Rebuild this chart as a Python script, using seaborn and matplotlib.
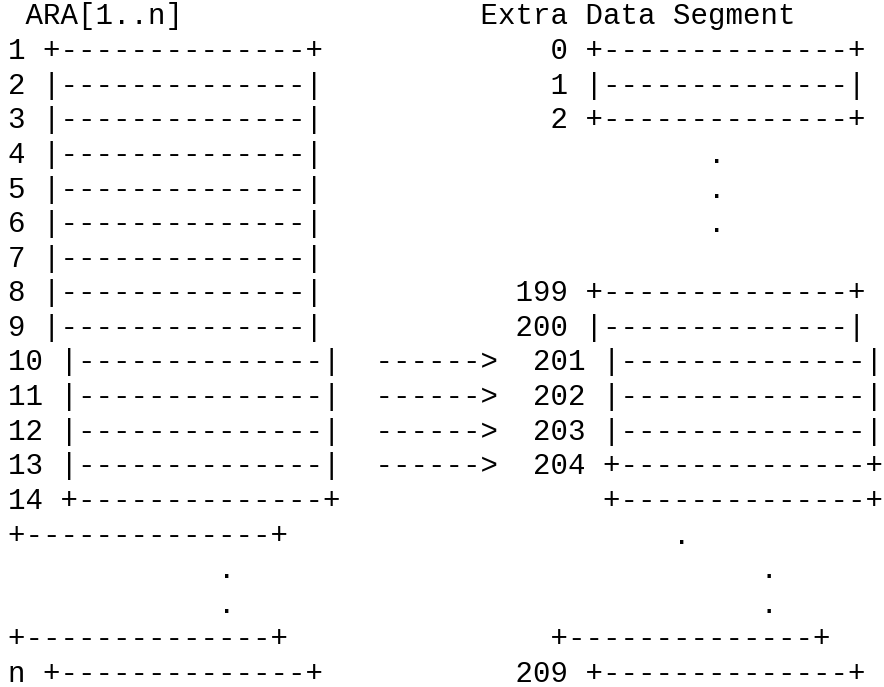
import matplotlib
matplotlib.use('Agg')
import matplotlib.pyplot as plt
import seaborn as sns

# ASCII 图的每一行（左边：ARA 数组，右边：额外数据段）
box_top = '+' + '-' * 14 + '+'
box_mid = '|' + '-' * 14 + '|'
arrow = '  ------>  '

lines = [
    ' ARA[1..n]' + ' ' * 17 + 'Extra Data Segment',
    '1 ' + box_top + ' ' * 13 + '0 ' + box_top,
    '2 ' + box_mid + ' ' * 13 + '1 ' + box_mid,
    '3 ' + box_mid + ' ' * 13 + '2 ' + box_top,
    '4 ' + box_mid + ' ' * 22 + '.',
    '5 ' + box_mid + ' ' * 22 + '.',
    '6 ' + box_mid + ' ' * 22 + '.',
    '7 ' + box_mid,
    '8 ' + box_mid + ' ' * 11 + '199 ' + box_top,
    '9 ' + box_mid + ' ' * 11 + '200 ' + box_mid,
    '10 ' + box_mid + arrow + '201 ' + box_mid,
    '11 ' + box_mid + arrow + '202 ' + box_mid,
    '12 ' + box_mid + arrow + '203 ' + box_mid,
    '13 ' + box_mid + arrow + '204 ' + box_top,
    '14 ' + box_top + ' ' * 15 + box_top,
    box_top + ' ' * 22 + '.',
    ' ' * 12 + '.' + ' ' * 30 + '.',
    ' ' * 12 + '.' + ' ' * 30 + '.',
    box_top + ' ' * 15 + box_top,
    'n ' + box_top + ' ' * 11 + '209 ' + box_top,
]

sns.set_theme(style='white')
plt.rcParams['font.family'] = ['Liberation Mono', 'DejaVu Sans Mono']

W, H = 884, 687
fig = plt.figure(figsize=(W / 100, H / 100), dpi=100)
ax = fig.add_axes([0, 0, 1, 1])
ax.set_xlim(0, W)
ax.set_ylim(H, 0)
ax.axis('off')

x0 = 8
y0 = 24.5
step = 34.6
for i, line in enumerate(lines):
    ax.text(x0, y0 + i * step, line, fontsize=21.0, color='black',
            ha='left', va='baseline')

fig.savefig('out.png', dpi=100, facecolor='white')
